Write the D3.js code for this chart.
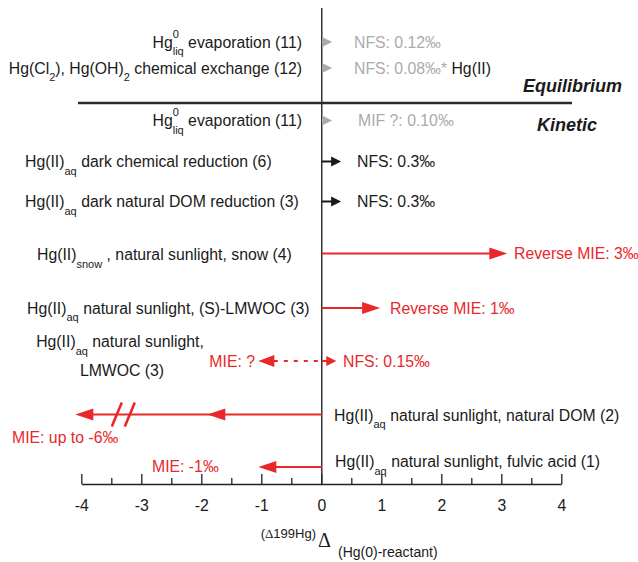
<!DOCTYPE html>
<html><head><meta charset="utf-8">
<script src="https://cdn.jsdelivr.net/npm/d3@7"></script>
<style>
html,body{margin:0;padding:0;background:#fff;}
svg{display:block;font-family:"Liberation Sans",Arial,Helvetica,sans-serif;}
text{white-space:pre;}
</style></head>
<body><svg id="c" width="638" height="562"></svg>
<script>
// ---------- DATA ----------
// process labels (left or right of the zero line); ^{..}=superscript, _{..}=subscript
const processLabels = [
  "Hg^{0}_{liq} evaporation (11)",
  "Hg(Cl_{2}), Hg(OH)_{2} chemical exchange (12)",
  "Hg^{0}_{liq} evaporation (11)",
  "Hg(II)_{aq} dark chemical reduction (6)",
  "Hg(II)_{aq} dark natural DOM reduction (3)",
  "Hg(II)_{snow} , natural sunlight, snow (4)",
  "Hg(II)_{aq} natural sunlight, (S)-LMWOC (3)",
  "Hg(II)_{aq} natural sunlight,",
  "Hg(II)_{aq} natural sunlight, natural DOM (2)",
  "Hg(II)_{aq} natural sunlight, fulvic acid (1)"
];
const processLabel2 = [null,null,null,null,null,null,null,"LMWOC (3)",null,null];
// arrow end value (Δ199Hg, ‰) as drawn
const arrowEnd   = [0.18, 0.18, 0.18, 0.33, 0.33, 3.1, 0.98, 0.25, -4.1, -1.05];
// secondary arrow heads / ends
const arrowEnd2  = [null, null, null, null, null, null, null, -1.05, -1.9, null];
const effectLabels = [
  "NFS: 0.12‰",
  "NFS: 0.08‰*[ Hg(II)]",
  "MIF ?: 0.10‰",
  "NFS: 0.3‰",
  "NFS: 0.3‰",
  "Reverse MIE: 3‰",
  "Reverse MIE: 1‰",
  "NFS: 0.15‰",
  "MIE: up to -6‰",
  "MIE: -1‰"
];
const effectLabels2 = [null,null,null,null,null,null,null,"MIE: ?",null,null];
const effectType = ["eq","eq","kin-gray","dark","dark","red","red","red-dot","red-break","red"];
const regimeLabels = ["Equilibrium","Kinetic"];
const axisTicks = [-4,-3,-2,-1,0,1,2,3,4];
const axisMinorTicks = [-3.5,-2.5,-1.5,-0.5,0.5,1.5,2.5,3.5];
const axisBreakAt = -3.3;

// ---------- LAYOUT ----------
const W = 638, H = 562;
const RED = "#e8282b", GRAY = "#ababab", INK = "#1a1a1a";
const FS = 15.8, SFS = 11;
const rowY   = [42, 68, 120.5, 161.5, 201.5, 253.5, 308, 361, 414.5, 467];
const labelY = [42, 68, 120.5, 161.5, 201.5, 254.5, 308, 341.5, 415, 461.5];
// label placement: [x, anchor]
const labelPos = [[302,"end"],[302,"end"],[302,"end"],[25,"start"],[25,"start"],[37,"start"],[27,"start"],[120,"middle"],[334,"start"],[335,"start"]];
const effPos = [[354,"start"],[354,"start"],[358,"start"],[357,"start"],[357,"start"],[514,"start"],[390,"start"],[343,"start"],[12,"start"],[152,"start"]];
const effY = [42, 68, 120.5, 161.5, 201.5, 253.5, 308, 361, 437, 466];
const colorOf = t => t==="eq"||t==="kin-gray" ? GRAY : t==="dark" ? INK : RED;

const svg = d3.select("#c");
const x = d3.scaleLinear().domain([-4,4]).range([81.3,561.3]);
const axisY = 484;

// rich text helper
function rich(sel, str, px, py, anchor, color, size, small) {
  size = size || FS; small = small || SFS;
  const t = sel.append("text").attr("x", px).attr("y", py + size*0.36)
    .attr("text-anchor", anchor).attr("fill", color).attr("font-size", size);
  const parts = str.split(/(\^\{[^}]*\}|_\{[^}]*\}|\[[^\]]*\])/).filter(s => s.length);
  let level = 0, prevSup = null;
  parts.forEach(p => {
    let type = "n", txt = p, fill = null;
    if (p.startsWith("^{")) { type = "sup"; txt = p.slice(2,-1); }
    else if (p.startsWith("_{")) { type = "sub"; txt = p.slice(2,-1); }
    else if (p.startsWith("[")) { txt = p.slice(1,-1); fill = INK; }
    const target = type==="sup" ? -size*0.62 : type==="sub" ? size*0.48 : 0;
    const ts = t.append("tspan").attr("dy", target - level).text(txt);
    if (type !== "n") ts.attr("font-size", small);
    if (fill) ts.attr("fill", fill);
    if (type==="sub" && prevSup) ts.attr("dx", -prevSup.node().getComputedTextLength());
    level = target;
    prevSup = type==="sup" ? ts : null;
  });
  return t;
}

function head(g, tipX, y, dir, len, half, color) {
  const bx = tipX - dir*len;
  g.append("path").attr("d", `M${tipX},${y}L${bx},${y-half}L${bx},${y+half}Z`).attr("fill", color);
}

const g = svg.append("g");

// zero line
g.append("line").attr("x1", x(0)+0.5).attr("x2", x(0)+0.5).attr("y1", 8).attr("y2", axisY)
  .attr("stroke", "#000").attr("stroke-width", 1.2);

// equilibrium / kinetic separator
g.append("line").attr("x1", 78).attr("x2", 572).attr("y1", 103).attr("y2", 103)
  .attr("stroke", "#2a2a2a").attr("stroke-width", 2.6);
svg.append("text").attr("x", 622).attr("y", 85+6.5).attr("text-anchor","end")
  .attr("font-size", 18).attr("font-weight","bold").attr("font-style","italic").attr("fill","#1a1a1a")
  .text(regimeLabels[0]);
svg.append("text").attr("x", 597).attr("y", 124+6.5).attr("text-anchor","end")
  .attr("font-size", 18).attr("font-weight","bold").attr("font-style","italic").attr("fill","#1a1a1a")
  .text(regimeLabels[1]);

// arrows
effectType.forEach((t, i) => {
  const y = rowY[i], c = colorOf(t), x0 = x(0)+0.5, xe = x(arrowEnd[i]);
  if (t==="eq" || t==="kin-gray" || t==="dark") {
    g.append("line").attr("x1", x0).attr("x2", xe-8).attr("y1", y).attr("y2", y).attr("stroke", c).attr("stroke-width", 2);
    head(g, xe, y, 1, 10, 5, c);
  } else if (t==="red") {
    const dir = arrowEnd[i] >= 0 ? 1 : -1;
    g.append("line").attr("x1", x0).attr("x2", xe - dir*14).attr("y1", y).attr("y2", y).attr("stroke", c).attr("stroke-width", 2);
    head(g, xe, y, dir, 18, 6, c);
  } else if (t==="red-dot") {
    g.append("line").attr("x1", x0).attr("x2", xe-8).attr("y1", y).attr("y2", y).attr("stroke", c).attr("stroke-width", 2);
    head(g, xe, y, 1, 10, 5, c);
    const xl = x(arrowEnd2[i]);
    g.append("line").attr("x1", x0-4).attr("x2", xl+14).attr("y1", y).attr("y2", y)
      .attr("stroke", c).attr("stroke-width", 2).attr("stroke-dasharray", "4,6");
    head(g, xl, y, -1, 16, 6, c);
  } else if (t==="red-break") {
    g.append("line").attr("x1", x0).attr("x2", xe + 14).attr("y1", y).attr("y2", y).attr("stroke", c).attr("stroke-width", 2);
    head(g, x(arrowEnd2[i]), y, -1, 18, 6, c);
    head(g, xe, y, -1, 18, 6, c);
    const xb = x(axisBreakAt);
    [-6.5, 6.5].forEach(o => {
      g.append("line").attr("x1", xb+o-5).attr("x2", xb+o+5).attr("y1", y+12).attr("y2", y-12)
        .attr("stroke", c).attr("stroke-width", 2.6);
    });
  }
});

// process labels
processLabels.forEach((s, i) => {
  rich(svg, s, labelPos[i][0], labelY[i], labelPos[i][1], INK);
  if (processLabel2[i]) rich(svg, processLabel2[i], 122, 370, "middle", INK);
});

// effect labels
effectLabels.forEach((s, i) => {
  const c = colorOf(effectType[i]);
  rich(svg, s, effPos[i][0], effY[i], effPos[i][1], c);
  if (effectLabels2[i]) rich(svg, effectLabels2[i], 255, rowY[i], "end", c);
});

// axis
const ax = svg.append("g").attr("transform", `translate(0,${axisY})`)
  .call(d3.axisBottom(x).tickValues(axisTicks).tickSize(-10).tickSizeOuter(0).tickPadding(16)
    .tickFormat(d => String(d)));
ax.select(".domain").attr("stroke", "#222").attr("stroke-width", 1.6);
ax.selectAll(".tick line").attr("stroke", "#222").attr("stroke-width", 1.3);
ax.selectAll(".tick text").attr("font-size", FS).attr("fill", INK)
  .attr("font-family", '"Liberation Sans",Arial,sans-serif');
const axm = svg.append("g").attr("transform", `translate(0,${axisY})`)
  .call(d3.axisBottom(x).tickValues(axisMinorTicks).tickSize(-6).tickSizeOuter(0).tickFormat(""));
axm.select(".domain").remove();
axm.selectAll(".tick line").attr("stroke", "#222").attr("stroke-width", 1.3);

// axis title
const t1 = svg.append("text").attr("x", 316).attr("y", 533+4.5).attr("text-anchor","end")
  .attr("font-size", 13).attr("fill", INK);
t1.append("tspan").text("(");
t1.append("tspan").attr("font-family","'Liberation Serif',serif").text("Δ");
t1.append("tspan").text("199Hg)");
svg.append("text").attr("x", 318).attr("y", 540+7).attr("font-size", 20)
  .attr("font-family","'Liberation Serif',serif").attr("fill", INK).text("Δ");
svg.append("text").attr("x", 338).attr("y", 552+5).attr("font-size", 14).attr("fill", INK)
  .text("(Hg(0)-reactant)");
</script></body></html>
